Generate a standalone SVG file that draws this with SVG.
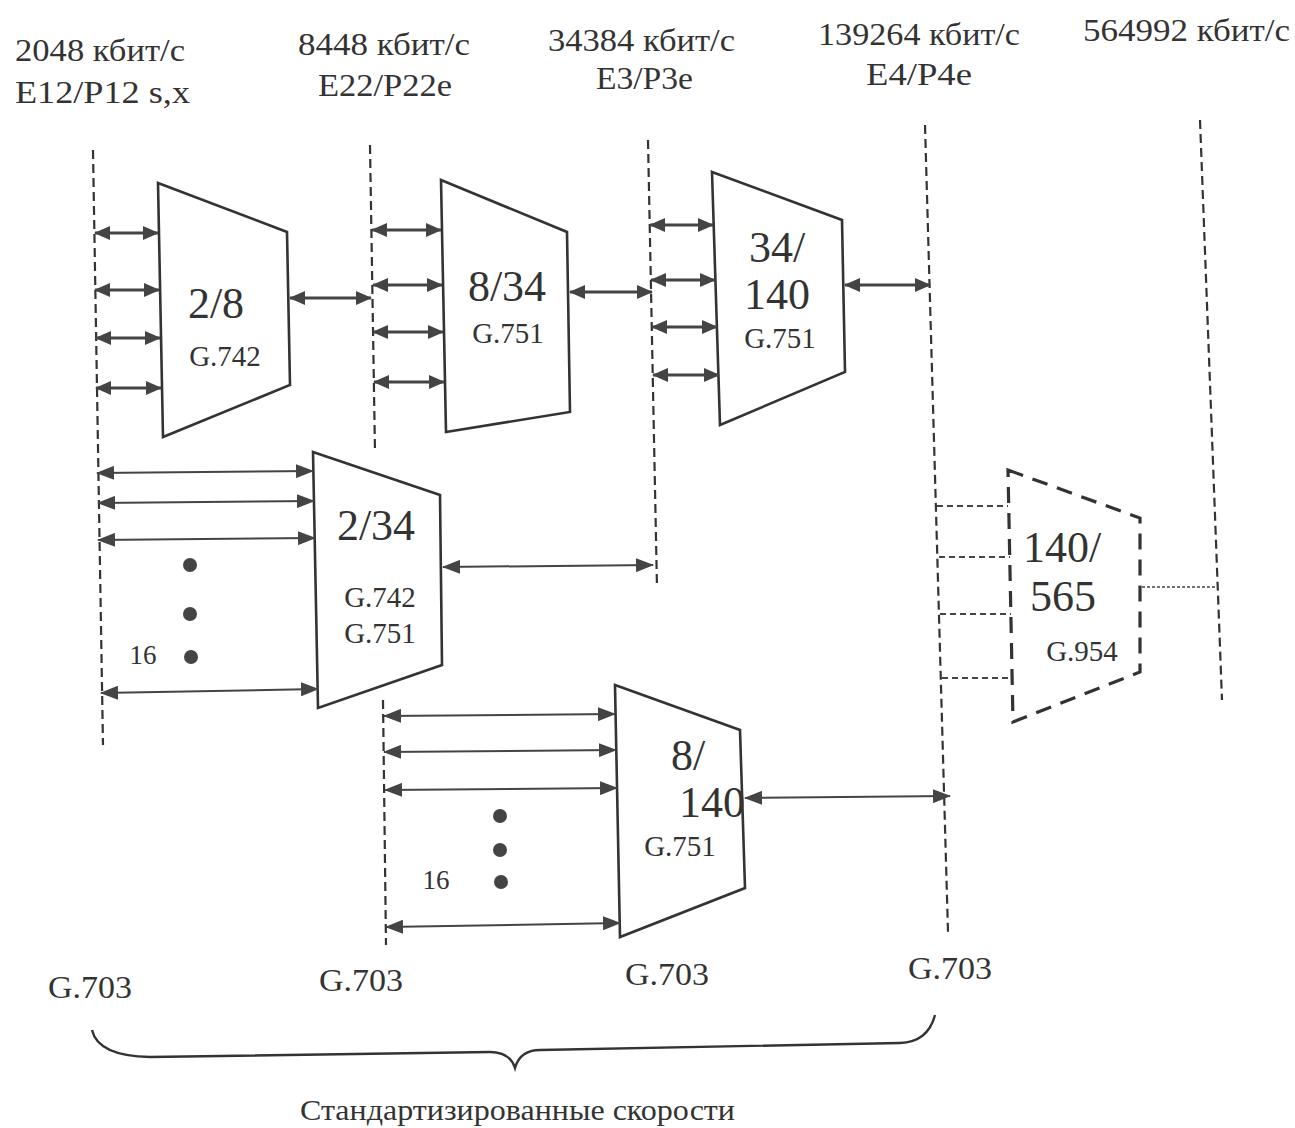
<svg xmlns="http://www.w3.org/2000/svg" width="1295" height="1128" viewBox="0 0 1295 1128">
<style>
text{font-family:"Liberation Serif","Times New Roman",serif;fill:#333}
.hdr{font-size:31px}
.big{font-size:44px;text-anchor:middle}
.std{font-size:29px;text-anchor:middle}
.num{font-size:27px;text-anchor:middle}
.g703{font-size:31px;text-anchor:middle}
.bus{fill:none;stroke:#333;stroke-width:2.2;stroke-dasharray:9 5}
.mux{fill:#fff;stroke:#333;stroke-width:2.6}
.dmux{fill:none;stroke:#333;stroke-width:3.2;stroke-dasharray:16 10}
.a1{stroke:#444;stroke-width:3;marker-start:url(#h1);marker-end:url(#h1)}
.a2{stroke:#444;stroke-width:2;marker-start:url(#h2);marker-end:url(#h2)}
.dl{stroke:#444;stroke-width:2;stroke-dasharray:6 4}
.dot{fill:#444}
</style>
<defs>
<marker id="h1" viewBox="0 0 16 14" refX="15" refY="7" markerWidth="16" markerHeight="14" markerUnits="userSpaceOnUse" orient="auto-start-reverse"><path d="M0,0 L16,7 L0,14 z" fill="#444"/></marker>
<marker id="h2" viewBox="0 0 18 14" refX="17" refY="7" markerWidth="18" markerHeight="14" markerUnits="userSpaceOnUse" orient="auto-start-reverse"><path d="M0,0 L18,7 L0,14 z" fill="#444"/></marker>
</defs>

<g id="headers">
<text class="hdr" x="15" y="61" textLength="170" lengthAdjust="spacingAndGlyphs">2048 кбит/с</text>
<text class="hdr" x="15" y="103" textLength="175" lengthAdjust="spacingAndGlyphs">E12/P12 s,x</text>
<text class="hdr" x="298" y="55" textLength="172" lengthAdjust="spacingAndGlyphs">8448 кбит/с</text>
<text class="hdr" x="318" y="96" textLength="134" lengthAdjust="spacingAndGlyphs">E22/P22e</text>
<text class="hdr" x="548" y="51" textLength="187" lengthAdjust="spacingAndGlyphs">34384 кбит/с</text>
<text class="hdr" x="596" y="89" textLength="97" lengthAdjust="spacingAndGlyphs">E3/P3e</text>
<text class="hdr" x="818" y="45" textLength="202" lengthAdjust="spacingAndGlyphs">139264 кбит/с</text>
<text class="hdr" x="866" y="85" textLength="106" lengthAdjust="spacingAndGlyphs">E4/P4e</text>
<text class="hdr" x="1083" y="41" textLength="207" lengthAdjust="spacingAndGlyphs">564992 кбит/с</text>
</g>

<g id="buses">
<line class="bus" x1="93" y1="150" x2="103" y2="745"/>
<line class="bus" x1="370" y1="145" x2="375" y2="452"/>
<line class="bus" x1="383" y1="700" x2="386" y2="945"/>
<line class="bus" x1="648" y1="140" x2="657" y2="588"/>
<line class="bus" x1="925" y1="125" x2="948" y2="932"/>
<line class="bus" x1="1200" y1="120" x2="1222" y2="700"/>
</g>

<g id="mux-2-8">
<polygon class="mux" points="158,183 287,232 290,385 163,437"/>
<text class="big" x="216" y="318">2/8</text>
<text class="std" x="225" y="366">G.742</text>
</g>
<g id="mux-8-34">
<polygon class="mux" points="441,180 567,232 570,412 446,432"/>
<text class="big" x="507" y="301">8/34</text>
<text class="std" x="508" y="343">G.751</text>
</g>
<g id="mux-34-140">
<polygon class="mux" points="712,172 842,220 845,372 720,425"/>
<text class="big" x="777" y="262">34/</text>
<text class="big" x="777" y="309">140</text>
<text class="std" x="780" y="348">G.751</text>
</g>
<g id="mux-2-34">
<polygon class="mux" points="313,452 440,495 442,665 318,708"/>
<text class="big" x="376" y="540">2/34</text>
<text class="std" x="380" y="607">G.742</text>
<text class="std" x="380" y="643">G.751</text>
</g>
<g id="mux-8-140">
<polygon class="mux" points="615,685 740,730 745,888 620,937"/>
<text class="big" x="688" y="770">8/</text>
<text class="big" x="712" y="817">140</text>
<text class="std" x="680" y="856">G.751</text>
</g>
<g id="mux-140-565">
<polygon class="dmux" points="1008,470 1140,518 1140,672 1013,722"/>
<text class="big" x="1062" y="562">140/</text>
<text class="big" x="1063" y="611">565</text>
<text class="std" x="1082" y="661">G.954</text>
</g>

<g id="connectors">
<line class="a1" x1="95" y1="233" x2="158" y2="233"/>
<line class="a1" x1="95" y1="290" x2="159" y2="290"/>
<line class="a1" x1="96" y1="338" x2="160" y2="338"/>
<line class="a1" x1="96" y1="388" x2="161" y2="388"/>
<line class="a1" x1="290" y1="298" x2="371" y2="298"/>

<line class="a1" x1="372" y1="230" x2="441" y2="230"/>
<line class="a1" x1="373" y1="285" x2="442" y2="285"/>
<line class="a1" x1="373" y1="332" x2="443" y2="332"/>
<line class="a1" x1="374" y1="382" x2="444" y2="382"/>
<line class="a1" x1="570" y1="292" x2="652" y2="292"/>

<line class="a1" x1="650" y1="225" x2="713" y2="225"/>
<line class="a1" x1="651" y1="280" x2="715" y2="280"/>
<line class="a1" x1="652" y1="327" x2="717" y2="327"/>
<line class="a1" x1="653" y1="375" x2="719" y2="375"/>
<line class="a1" x1="845" y1="285" x2="930" y2="285"/>

<line class="a2" x1="97" y1="473" x2="313" y2="471"/>
<line class="a2" x1="98" y1="503" x2="314" y2="501"/>
<line class="a2" x1="98" y1="540" x2="315" y2="538"/>
<line class="a2" x1="101" y1="693" x2="318" y2="689"/>
<line class="a2" x1="443" y1="567" x2="653" y2="565"/>

<line class="a2" x1="384" y1="716" x2="615" y2="714"/>
<line class="a2" x1="384" y1="752" x2="616" y2="750"/>
<line class="a2" x1="385" y1="790" x2="617" y2="788"/>
<line class="a2" x1="386" y1="927" x2="620" y2="923"/>
<line class="a2" x1="745" y1="798" x2="950" y2="796"/>

<line class="dl" x1="937" y1="506" x2="1008" y2="506"/>
<line class="dl" x1="939" y1="557" x2="1010" y2="557"/>
<line class="dl" x1="940" y1="614" x2="1011" y2="614"/>
<line class="dl" x1="942" y1="678" x2="1012" y2="678"/>
<line stroke="#444" stroke-width="1.6" stroke-dasharray="3 2" x1="1142" y1="587" x2="1218" y2="587"/>
</g>

<g id="ellipsis">
<circle class="dot" cx="190" cy="565" r="7"/>
<circle class="dot" cx="190" cy="614" r="7"/>
<circle class="dot" cx="191" cy="657" r="7"/>
<text class="num" x="143" y="664">16</text>
<circle class="dot" cx="500" cy="816" r="7"/>
<circle class="dot" cx="500" cy="850" r="7"/>
<circle class="dot" cx="501" cy="882" r="7"/>
<text class="num" x="436" y="889">16</text>
</g>

<g id="footer">
<text class="g703" x="90" y="998" textLength="84" lengthAdjust="spacingAndGlyphs">G.703</text>
<text class="g703" x="361" y="991" textLength="84" lengthAdjust="spacingAndGlyphs">G.703</text>
<text class="g703" x="667" y="985" textLength="84" lengthAdjust="spacingAndGlyphs">G.703</text>
<text class="g703" x="950" y="979" textLength="84" lengthAdjust="spacingAndGlyphs">G.703</text>
<path d="M92,1030 Q98,1056 150,1057 L490,1052 Q510,1052 515,1068 Q520,1050 540,1050 L900,1043 Q928,1042 935,1015" fill="none" stroke="#333" stroke-width="2.4"/>
<text x="300" y="1120" style="font-size:29px" textLength="435" lengthAdjust="spacingAndGlyphs">Стандартизированные скорости</text>
</g>
</svg>
